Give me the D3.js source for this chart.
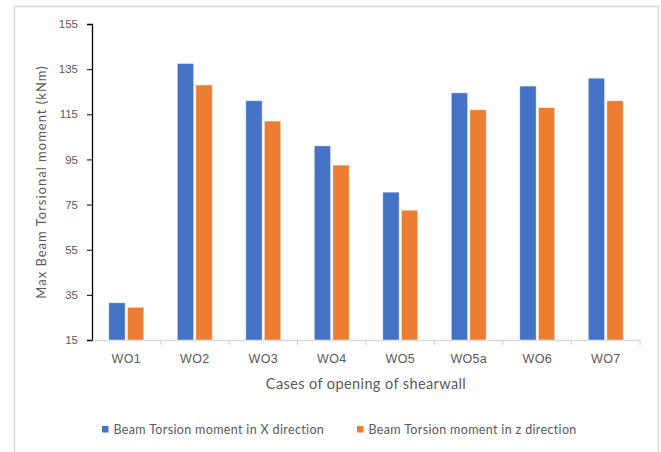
<!DOCTYPE html>
<html>
<head>
<meta charset="utf-8">
<script src="https://cdn.jsdelivr.net/npm/d3@7"></script>
<style>
  html, body { margin: 0; padding: 0; background: #fff; }
  svg { display: block; font-family: "Lato", "Open Sans", sans-serif; }
</style>
</head>
<body>
<svg id="chart" width="661" height="452"></svg>
<script>
// Cases of shear-wall opening and max beam torsional moment (kNm)
const categories = ["WO1", "WO2", "WO3", "WO4", "WO5", "WO5a", "WO6", "WO7"];
const torsionX = [31.5, 137.5, 121, 101, 80.5, 124.5, 127.5, 131];
const torsionZ = [29.5, 128, 112, 92.5, 72.5, 117, 118, 121];
const seriesNames = ["Beam Torsion moment in X direction", "Beam Torsion moment in z direction"];
const seriesColors = ["#4472C4", "#ED7D31"];
const yTicks = [15, 35, 55, 75, 95, 115, 135, 155];

const svg = d3.select("#chart");
const margin = { left: 92, right: 21, top: 24, bottom: 112 };
const W = 661, H = 452;
const plotW = W - margin.left - margin.right;
const plotH = H - margin.top - margin.bottom;

// outer frame of the chart area
svg.append("rect")
  .attr("x", 14.5).attr("y", 6.5)
  .attr("width", 644).attr("height", 460)
  .attr("fill", "none").attr("stroke", "#d9d9d9").attr("stroke-width", 1.5);

const g = svg.append("g").attr("transform", `translate(${margin.left},${margin.top})`);

const x = d3.scaleBand().domain(categories).range([0, plotW]).padding(0);
const y = d3.scaleLinear().domain([15, 155]).range([plotH, 0]);

// y axis
const yAxis = g.append("g").call(d3.axisLeft(y).tickValues(yTicks).tickSize(5).tickPadding(9));
yAxis.select(".domain").attr("stroke", "#000").attr("stroke-width", 1.3);
yAxis.selectAll(".tick line").attr("stroke", "#000").attr("stroke-width", 1);
yAxis.selectAll("text").attr("fill", "#595959").style("font-size", "11.5px");

// x axis
const xAxis = g.append("g").attr("transform", `translate(0,${plotH})`)
  .call(d3.axisBottom(x).tickSize(0).tickPadding(14));
xAxis.select(".domain").attr("stroke", "#d9d9d9").attr("stroke-width", 1.3);
xAxis.selectAll("text").attr("fill", "#595959").style("font-size", "12.5px")
  .style("letter-spacing", "0.3px");
// category separators
xAxis.selectAll(".sep")
  .data(categories)
  .join("line")
  .attr("class", "sep")
  .attr("x1", d => x(d) + x.bandwidth()).attr("x2", d => x(d) + x.bandwidth())
  .attr("y1", 0).attr("y2", 5)
  .attr("stroke", "#d9d9d9").attr("stroke-width", 1.3);

// grouped bars
const inner = d3.scaleBand().domain([0, 1])
  .range([x.bandwidth() * 0.245, x.bandwidth() * 0.755]).paddingInner(0.12);
const seriesData = [torsionX, torsionZ];
seriesData.forEach((vals, si) => {
  g.append("g").selectAll("rect")
    .data(vals)
    .join("rect")
    .attr("x", (d, i) => x(categories[i]) + inner(si))
    .attr("y", d => y(d))
    .attr("width", inner.bandwidth())
    .attr("height", d => y(15) - y(d))
    .attr("fill", seriesColors[si])
    .attr("stroke", "#ffffff").attr("stroke-opacity", 0.55).attr("stroke-width", 0.8);
});

// axis titles
svg.append("text")
  .attr("transform", `translate(46,182) rotate(-90)`)
  .attr("text-anchor", "middle")
  .attr("fill", "#595959")
  .style("font-size", "13px")
  .style("letter-spacing", "1px")
  .text("Max Beam Torsional moment (kNm)");

svg.append("text")
  .attr("x", 366).attr("y", 389)
  .attr("text-anchor", "middle")
  .attr("fill", "#595959")
  .style("font-size", "14.5px")
  .style("letter-spacing", "0.4px")
  .text("Cases of opening of shearwall");

// legend
const legendX = [102, 357];
const legend = svg.append("g");
seriesNames.forEach((name, i) => {
  legend.append("rect")
    .attr("x", legendX[i]).attr("y", 426)
    .attr("width", 6.5).attr("height", 6.5)
    .attr("fill", seriesColors[i]);
  legend.append("text")
    .attr("x", legendX[i] + 11.5).attr("y", 434)
    .attr("fill", "#595959")
    .style("font-size", "12.5px")
    .style("letter-spacing", "0.35px")
    .text(name);
});
</script>
</body>
</html>
